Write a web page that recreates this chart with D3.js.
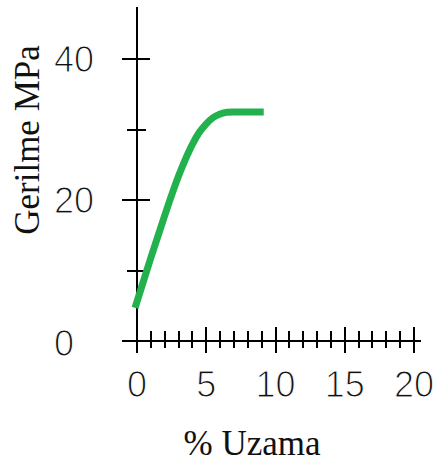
<!DOCTYPE html>
<html>
<head>
<meta charset="utf-8">
<script src="https://cdn.jsdelivr.net/npm/d3@7"></script>
<style>
  html, body { margin: 0; padding: 0; background: #fff; }
  svg { display: block; }
</style>
</head>
<body>
<svg id="chart" width="433" height="464"></svg>
<script>
// Data
const strainPct = [-0.14, 0.5, 1, 1.5, 2, 2.5, 3, 3.5, 4, 4.5, 5, 5.5, 6, 6.5, 7, 9.15];
const stressMPa = [4.7, 8.7, 11.8, 14.8, 17.8, 20.7, 23.4, 25.8, 27.9, 29.6, 30.8, 31.7, 32.2, 32.45, 32.5, 32.5];
const xMajorTicks = [0, 5, 10, 15, 20];
const xMinorTicks = [1, 2, 3, 4, 6, 7, 8, 9, 11, 12, 13, 14, 16, 17, 18, 19];
const yMajorTicks = [0, 20, 40];
const yMinorTicks = [10, 30];
const xTitle = "% Uzama";
const yTitle = "Gerilme MPa";

const svg = d3.select("#chart");
const x = d3.scaleLinear().domain([0, 20]).range([137, 414]);
const y = d3.scaleLinear().domain([0, 40]).range([341, 59]);

const axisG = svg.append("g").attr("stroke", "#000").attr("stroke-width", 2).attr("shape-rendering", "crispEdges");
// axes lines
axisG.append("line").attr("x1", x(0)).attr("x2", x(0)).attr("y1", 7).attr("y2", 353);
axisG.append("line").attr("x1", 122).attr("x2", 421).attr("y1", y(0)).attr("y2", y(0));

// x ticks
axisG.selectAll(".xmaj").data(xMajorTicks.filter(d => d > 0)).join("line")
  .attr("x1", d => x(d)).attr("x2", d => x(d))
  .attr("y1", y(0) - 14).attr("y2", y(0) + 12);
axisG.selectAll(".xmin").data(xMinorTicks).join("line")
  .attr("x1", d => x(d)).attr("x2", d => x(d))
  .attr("y1", y(0) - 10).attr("y2", y(0) + 7);
// y ticks
axisG.selectAll(".ymaj").data(yMajorTicks.filter(d => d > 0)).join("line")
  .attr("x1", 122).attr("x2", 150)
  .attr("y1", d => y(d)).attr("y2", d => y(d));
axisG.selectAll(".ymin").data(yMinorTicks).join("line")
  .attr("x1", 127).attr("x2", 146)
  .attr("y1", d => y(d)).attr("y2", d => y(d));

// tick labels (thin strokes like the original)
const tickFont = "'Liberation Sans', Arial, sans-serif";
function thin(sel) {
  sel.attr("stroke", "#fff").attr("stroke-width", 1.1).attr("paint-order", "fill");
}
svg.append("g").selectAll("text").data(xMajorTicks).join("text")
  .attr("x", d => x(d)).attr("y", 397)
  .attr("text-anchor", "middle")
  .attr("font-family", tickFont).attr("font-size", 36)
  .attr("fill", "#111")
  .call(thin)
  .text(d => d);
svg.append("g").selectAll("text").data(yMajorTicks).join("text")
  .attr("x", 54).attr("y", d => d === 0 ? 356 : y(d) + 13)
  .attr("text-anchor", "start")
  .attr("font-family", tickFont).attr("font-size", 36)
  .attr("fill", "#111")
  .call(thin)
  .text(d => d);

// titles
const titleFont = "'Liberation Serif', 'Times New Roman', serif";
svg.append("text")
  .attr("x", 252).attr("y", 455)
  .attr("text-anchor", "middle")
  .attr("font-family", titleFont).attr("font-size", 35)
  .attr("fill", "#111")
  .text(xTitle);
svg.append("text")
  .attr("transform", "translate(39,140) rotate(-90)")
  .attr("text-anchor", "middle")
  .attr("font-family", titleFont).attr("font-size", 35)
  .attr("fill", "#111")
  .text(yTitle);

// curve
const line = d3.line()
  .x((d, i) => x(strainPct[i]))
  .y((d, i) => y(stressMPa[i]))
  .curve(d3.curveMonotoneX);
svg.append("path")
  .datum(strainPct)
  .attr("d", line)
  .attr("fill", "none")
  .attr("stroke", "#22b14c")
  .attr("stroke-width", 7)
  .attr("stroke-linecap", "butt")
  .attr("stroke-linejoin", "round");
</script>
</body>
</html>
